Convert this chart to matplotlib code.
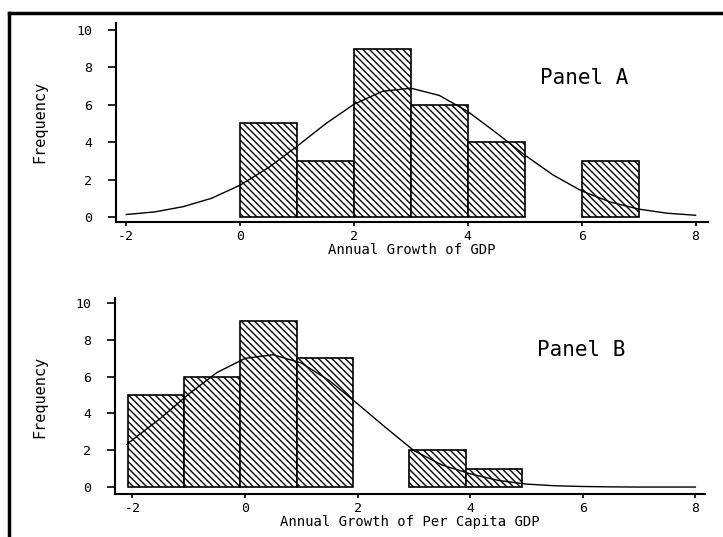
import numpy as np
import matplotlib
matplotlib.use('Agg')
import matplotlib.pyplot as plt
from matplotlib.lines import Line2D

# Panel A: annual growth of GDP
a_edges = [0, 1, 2, 3, 4, 5, 6]
a_counts = [5, 3, 9, 6, 4, 0, 3]
a_curve_x = [-2, -1.5, -1, -0.5, 0, 0.5, 1, 1.5, 2, 2.5, 3, 3.5, 4, 4.5, 5, 5.5, 6, 6.5, 7, 7.5, 8]
a_curve_y = [0.13, 0.27, 0.55, 1.0, 1.7, 2.64, 3.78, 4.98, 6.03, 6.72, 6.89, 6.5, 5.64, 4.5, 3.31,
             2.24, 1.39, 0.8, 0.42, 0.2, 0.09]

# Panel B: annual growth of per capita GDP
b_edges = [-2.08, -1.08, -0.08, 0.92, 1.92, 2.92, 3.92]
b_counts = [5, 6, 9, 7, 0, 2, 1]
b_curve_x = [-2.1, -1.5, -1, -0.5, 0, 0.5, 1, 1.5, 2, 2.5, 3, 3.5, 4, 4.5, 5, 5.5, 6, 6.5, 7, 7.5, 8]
b_curve_y = [2.32, 3.74, 5.05, 6.22, 6.99, 7.19, 6.74, 5.78, 4.52, 3.23, 1.98, 1.2, 0.72, 0.36, 0.16,
             0.07, 0.03, 0.01, 0.0, 0.0, 0.0]

x_ticks = [-2, 0, 2, 4, 6, 8]
y_ticks = [0, 2, 4, 6, 8, 10]

plt.rcParams['font.family'] = 'DejaVu Sans Mono'
plt.rcParams['axes.unicode_minus'] = False
plt.rcParams['hatch.linewidth'] = 1.0

fig = plt.figure(figsize=(7.23, 5.37), dpi=100)

def panel(rect, edges, counts, cx, cy, xlim, ylim, xlabel, name, name_xy, ylabel_y):
    ax = fig.add_axes(rect)
    for e, c in zip(edges, counts):
        if c == 0:
            continue
        ax.bar(e, c, width=1.0, align='edge', facecolor='white', edgecolor='black',
               linewidth=1.2, hatch='\\\\\\\\\\')
    ax.plot(cx, cy, color='black', linewidth=1.0)
    ax.set_xlim(*xlim)
    ax.set_ylim(*ylim)
    ax.set_xticks(x_ticks)
    ax.set_yticks(y_ticks)
    for s in ['top', 'right']:
        ax.spines[s].set_visible(False)
    for s in ['left', 'bottom']:
        ax.spines[s].set_linewidth(1.5)
    ax.tick_params(axis='y', direction='out', length=6, width=1.2, pad=11, labelsize=9.5)
    ax.tick_params(axis='x', direction='out', length=3, width=1.2, pad=3, labelsize=9.5)
    ax.set_xlabel(xlabel, fontsize=10, labelpad=0)
    ax.text(name_xy[0], name_xy[1], name, fontsize=15, ha='left', va='center')
    fig.text(40 / 723, ylabel_y, 'Frequency', rotation=90, ha='center', va='center', fontsize=11)
    return ax

panel([0.1604, 0.5866, 0.819, 0.370], a_edges, a_counts, a_curve_x, a_curve_y,
      (-2.18, 8.22), (-0.27, 10.36), 'Annual Growth of GDP', 'Panel A', (5.27, 7.43),
      1 - 122 / 537)
panel([0.159, 0.080, 0.816, 0.365], b_edges, b_counts, b_curve_x, b_curve_y,
      (-2.31, 8.17), (-0.38, 10.27), 'Annual Growth of Per Capita GDP', 'Panel B', (5.19, 7.45),
      1 - 397 / 537)

# outer frame (top and left edges visible in the scan)
fig.add_artist(Line2D([9 / 723, 1.0], [1 - 13 / 537, 1 - 13 / 537], color='black', linewidth=2.5,
                      transform=fig.transFigure))
fig.add_artist(Line2D([9 / 723, 9 / 723], [0.0, 1 - 13 / 537], color='black', linewidth=2.5,
                      transform=fig.transFigure))

fig.savefig('out.png', dpi=100)
